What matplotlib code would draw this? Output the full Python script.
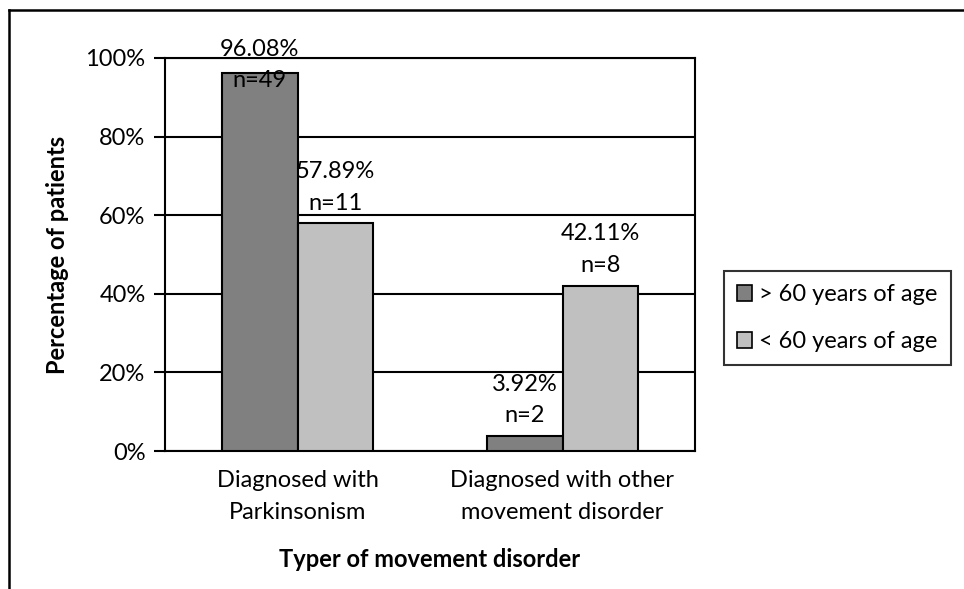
import matplotlib
matplotlib.use("Agg")
import matplotlib.pyplot as plt
from matplotlib.lines import Line2D
from matplotlib.patches import Patch
import numpy as np

plt.rcParams['font.family'] = ['Lato', 'DejaVu Sans']

categories = ["Diagnosed with\nParkinsonism", "Diagnosed with other\nmovement disorder"]
series_names = ["> 60 years of age", "< 60 years of age"]
over60 = [96.08, 3.92]
under60 = [57.89, 42.11]
n_over60 = [49, 2]
n_under60 = [11, 8]
yticks = [0, 20, 40, 60, 80, 100]
colors = ["#808080", "#c0c0c0"]

fig = plt.figure(figsize=(9.64, 5.89), dpi=100)
ax = fig.add_axes([165/964, 1-451/589, 530/964, 393/589])

x = np.arange(len(categories))
w = 0.2857
fs = 17
for i, (vals, ns, c) in enumerate([(over60, n_over60, colors[0]), (under60, n_under60, colors[1])]):
    pos = x + (i - 0.5) * w
    ax.bar(pos, vals, width=w, color=c, edgecolor="black", linewidth=1.5, zorder=3)
    for p, v, n in zip(pos, vals, ns):
        ytxt = min(v + 2.5, 91.5)
        ax.text(p, ytxt, f"{v:.2f}%\nn={n}", ha="center", va="bottom",
                fontsize=fs, linespacing=1.6, zorder=4, clip_on=False)

ax.set_xlim(-0.5, 1.5)
ax.set_ylim(0, 100)
ax.set_yticks(yticks)
ax.set_yticklabels([f"{t}%" for t in yticks], fontsize=fs)
ax.yaxis.grid(True, color="black", linewidth=1.5, zorder=0)
ax.set_axisbelow(True)
ax.tick_params(axis="y", direction="out", length=8, width=1.5, pad=6)
ax.set_xticks(x)
ax.set_xticklabels(categories, fontsize=fs, linespacing=1.6)
ax.tick_params(axis="x", length=0, pad=14)
for s in ax.spines.values():
    s.set_linewidth(1.5)
    s.set_color("black")

ax.set_ylabel("Percentage of patients", fontsize=fs, fontweight="bold", labelpad=12)
ax.set_xlabel("Typer of movement disorder", fontsize=fs, fontweight="bold", labelpad=18)

handles = [Patch(facecolor=colors[0], edgecolor="black", linewidth=1.2),
           Patch(facecolor=colors[1], edgecolor="black", linewidth=1.2)]
leg = fig.legend(handles, series_names, loc="center left",
                 bbox_to_anchor=(724/964, 1-318/589), fontsize=fs,
                 frameon=True, fancybox=False, edgecolor="black",
                 handlelength=0.65, handleheight=0.65, handletextpad=0.3,
                 labelspacing=1.1, borderpad=0.55, borderaxespad=0)
leg.get_frame().set_linewidth(1.5)

# outer figure border (top and left visible)
fig.add_artist(Line2D([9/964, 1], [1-10/589, 1-10/589], color="black", linewidth=1.8, transform=fig.transFigure))
fig.add_artist(Line2D([9/964, 9/964], [0, 1-10/589], color="black", linewidth=1.8, transform=fig.transFigure))

fig.savefig("out.png", dpi=100)
